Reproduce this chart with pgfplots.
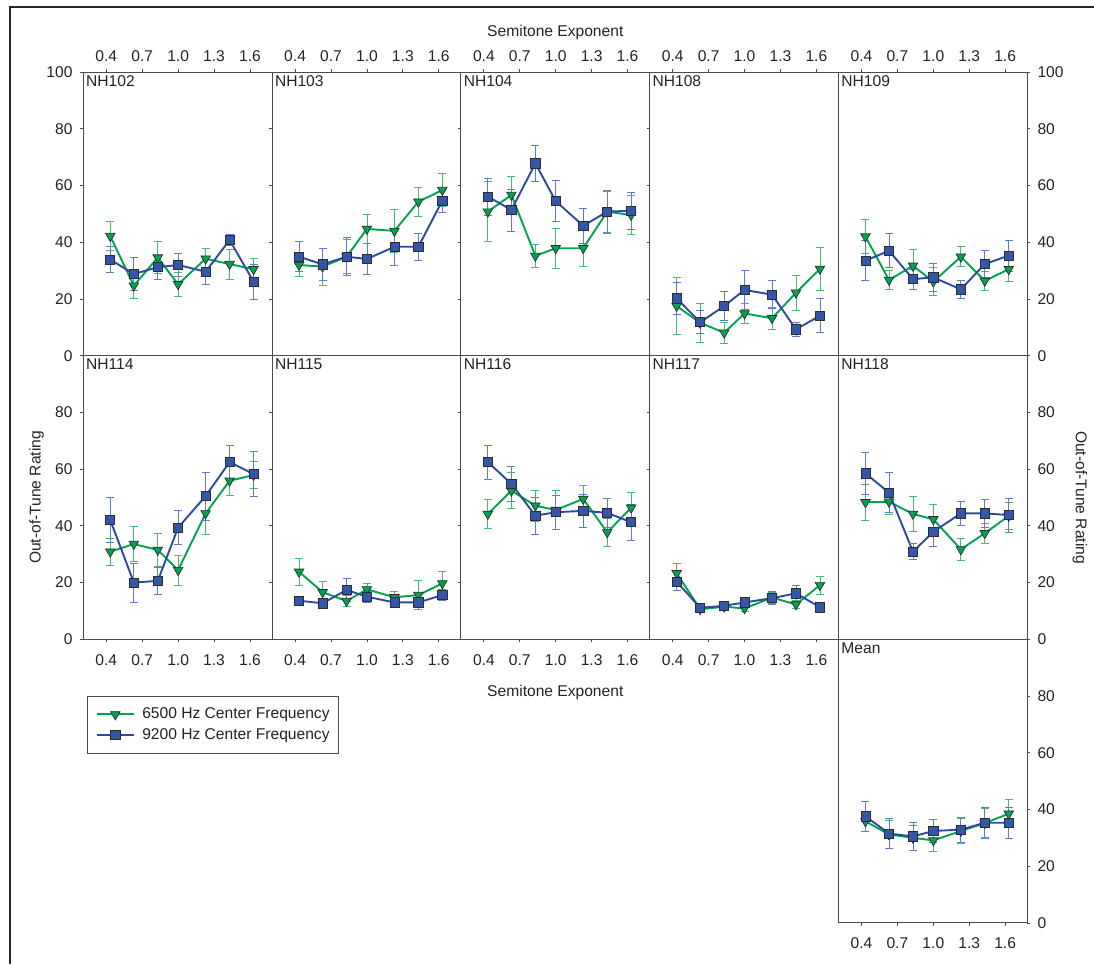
\documentclass[border=0pt]{standalone}
\usepackage{fontspec}
\setmainfont{Liberation Sans}
\usepackage{pgfplots}
\pgfplotsset{compat=1.18}
\definecolor{cgreen}{RGB}{0,163,80}
\definecolor{cgreenL}{RGB}{70,188,115}
\definecolor{cblue}{RGB}{44,74,158}
\definecolor{cblue2}{RGB}{50,86,170}
\definecolor{cblueL}{RGB}{95,125,198}
\definecolor{mkedge}{RGB}{45,45,45}
\definecolor{axgray}{RGB}{75,75,75}
\definecolor{txtgray}{RGB}{35,35,35}
\newcommand\fsz{\fontsize{15.6}{18.7}\selectfont}
\pgfplotsset{
 panel/.style={scale only axis, width=188.8pt, height=283.6pt, anchor=south west,
   xmin=0.208, xmax=1.785, ymin=0, ymax=100,
   axis line style={draw=axgray, line width=0.9pt},
   xtick={0.4,0.7,1.0,1.3,1.6}, xticklabels={0.4,0.7,1.0,1.3,1.6},
   tick align=outside, major tick length=3pt,
   tick style={draw=axgray, line width=0.8pt},
   tick label style={font=\fsz, text=txtgray, inner sep=0pt},
   label style={font=\fsz, text=txtgray, inner sep=0pt},
   /pgf/number format/assume math mode=true},
 xtop/.style={xtick pos=right, xticklabel pos=right, xticklabel shift=7.3pt},
 xbot/.style={xtick pos=left, xticklabel pos=left, xticklabel shift=11.7pt},
 ylft/.style={ytick pos=left, yticklabel pos=left, yticklabel shift=7.6pt},
 yin/.style={ytick pos=left, yticklabels={}},
 yrgt/.style={ytick pos=right, yticklabel pos=right, yticklabel shift=7pt},
 ya/.style={ytick={0,20,40,60,80,100}},
 yb/.style={ytick={0,20,40,60,80}},
 gline/.style={color=cgreen, line width=1.9pt, mark=triangle*, mark size=5.5pt,
   mark options={fill=cgreen, draw=mkedge, line width=0.7pt, rotate=180}},
 bline/.style={color=cblue, line width=1.9pt, mark=square*, mark size=4.6pt,
   mark options={fill=cblue2, draw=mkedge, line width=0.7pt}},
 gerr/.style={error bars/.cd, y dir=both, y explicit,
   error bar style={color=cgreenL, line width=0.8pt},
   error mark options={rotate=90, mark size=4pt, color=cgreenL, line width=0.8pt}},
 berr/.style={error bars/.cd, y dir=both, y explicit,
   error bar style={color=cblueL, line width=0.8pt},
   error mark options={rotate=90, mark size=4pt, color=cblueL, line width=0.8pt}},
}
\newcommand\pname[1]{\node[anchor=north west, inner sep=0pt, text=txtgray, font=\fsz, xshift=2.7pt, yshift=-3pt] at (rel axis cs:0,1) {#1};}

\begin{document}
\fsz
\begin{tikzpicture}[x=1pt,y=1pt]
\path[use as bounding box] (0pt,0pt) rectangle (1094pt,964pt);
\draw[line width=2.3pt, color=black!85] (10pt,0pt) -- (10pt,957pt) -- (1094pt,957pt);

% ---------- Row 1 ----------
\begin{axis}[panel, at={(83.3pt,608.3pt)}, xtop, ylft, ya]
\pname{NH102}
\addplot[gline, gerr] coordinates {(0.433,42.2) +- (0,5.0) (0.63,24.7) +- (0,4.6) (0.83,34.6) +- (0,5.6) (1.0,25.2) +- (0,4.2) (1.23,34.2) +- (0,3.7) (1.43,32.3) +- (0,5.3) (1.63,30.5) +- (0,3.8)};
\addplot[bline, berr] coordinates {(0.433,33.9) +- (0,4.5) (0.63,28.8) +- (0,5.9) (0.83,31.2) +- (0,4.3) (1.0,32.0) +- (0,3.9) (1.23,29.6) +- (0,4.3) (1.43,40.8) +- (0,2.0) (1.63,26.1) +- (0,6.1)};
\end{axis}

\begin{axis}[panel, at={(272.1pt,608.3pt)}, xtop, yin, ya]
\pname{NH103}
\addplot[gline, gerr] coordinates {(0.433,32.0) +- (0,3.9) (0.63,31.4) +- (0,6.5) (0.83,34.9) +- (0,6.0) (1.0,44.7) +- (0,5.2) (1.23,44.0) +- (0,7.6) (1.43,54.3) +- (0,5.1) (1.63,58.4) +- (0,5.9)};
\addplot[bline, berr] coordinates {(0.433,34.9) +- (0,5.3) (0.63,32.2) +- (0,5.8) (0.83,34.9) +- (0,6.7) (1.0,34.1) +- (0,5.4) (1.23,38.4) +- (0,6.4) (1.43,38.4) +- (0,4.8) (1.63,54.7) +- (0,4.3)};
\end{axis}

\begin{axis}[panel, at={(460.9pt,608.3pt)}, xtop, yin, ya,
  xlabel={Semitone Exponent}, xlabel style={at={(rel axis cs:0.5,1.138)}, anchor=center}]
\pname{NH104}
\addplot[gline, gerr] coordinates {(0.433,50.8) +- (0,10.6) (0.63,56.7) +- (0,6.4) (0.83,35.2) +- (0,4.2) (1.0,37.9) +- (0,7.0) (1.23,37.9) +- (0,6.3) (1.43,50.8) +- (0,7.3) (1.63,49.6) +- (0,7.0)};
\addplot[bline, berr] coordinates {(0.433,56.1) +- (0,6.5) (0.63,51.4) +- (0,7.4) (0.83,67.8) +- (0,6.2) (1.0,54.5) +- (0,7.2) (1.23,45.8) +- (0,6.3) (1.43,50.8) +- (0,7.6) (1.63,51.1) +- (0,6.4)};
\end{axis}

\begin{axis}[panel, at={(649.7pt,608.3pt)}, xtop, yin, ya]
\pname{NH108}
\addplot[gline, gerr] coordinates {(0.433,17.5) +- (0,10.0) (0.63,11.6) +- (0,7.0) (0.83,8.1) +- (0,3.7) (1.0,14.9) +- (0,3.6) (1.23,13.2) +- (0,4.0) (1.43,22.2) +- (0,6.2) (1.63,30.6) +- (0,7.6)};
\addplot[bline, berr] coordinates {(0.433,20.2) +- (0,5.5) (0.63,11.8) +- (0,4.0) (0.83,17.5) +- (0,5.2) (1.0,23.2) +- (0,7.0) (1.23,21.5) +- (0,4.9) (1.43,9.3) +- (0,2.5) (1.63,14.1) +- (0,6.0)};
\end{axis}

\begin{axis}[panel, at={(838.5pt,608.3pt)}, xtop, yrgt, ya]
\pname{NH109}
\addplot[gline, gerr] coordinates {(0.433,42.0) +- (0,6.0) (0.63,26.7) +- (0,3.3) (0.83,31.7) +- (0,5.7) (1.0,26.1) +- (0,5.0) (1.23,34.9) +- (0,3.5) (1.43,26.4) +- (0,3.3) (1.63,30.5) +- (0,4.2)};
\addplot[bline, berr] coordinates {(0.433,33.5) +- (0,7.0) (0.63,37.0) +- (0,6.0) (0.83,27.0) +- (0,3.6) (1.0,27.6) +- (0,5.0) (1.23,23.4) +- (0,3.2) (1.43,32.3) +- (0,4.7) (1.63,35.3) +- (0,5.5)};
\end{axis}

% ---------- Row 2 ----------
\begin{axis}[panel, at={(83.3pt,324.7pt)}, xbot, ylft, yb,
  ylabel={Out-of-Tune Rating}, ylabel style={at={(rel axis cs:-0.247,0.5)}, anchor=center},
  legend style={at={(0.018,-0.199)}, anchor=north west, draw=axgray, line width=0.8pt,
    fill=white, font=\fsz, text=txtgray, inner xsep=9pt, inner ysep=11pt, row sep=6pt,
    nodes={inner sep=0pt, text height=11.3pt, text depth=3.3pt, anchor=west},
    /tikz/every odd column/.append style={column sep=7.7pt}},
  legend cell align=left,
  legend image code/.code={\draw[mark repeat=2,mark phase=2,#1] plot coordinates {(0pt,0pt) (18.3pt,0pt) (36.6pt,0pt)};}]
\pname{NH114}
\addlegendimage{gline}
\addlegendentry{6500 Hz Center Frequency}
\addlegendimage{bline}
\addlegendentry{9200 Hz Center Frequency}
\addplot[gline, gerr] coordinates {(0.433,30.9) +- (0,4.8) (0.63,33.6) +- (0,6.2) (0.83,31.5) +- (0,5.8) (1.0,24.4) +- (0,5.3) (1.23,44.4) +- (0,7.3) (1.43,55.9) +- (0,5.0) (1.63,57.9) +- (0,4.8)};
\addplot[bline, berr] coordinates {(0.433,42.1) +- (0,7.8) (0.63,20.0) +- (0,6.9) (0.83,20.6) +- (0,4.6) (1.0,39.4) +- (0,5.9) (1.23,50.5) +- (0,8.5) (1.43,62.5) +- (0,6.0) (1.63,58.3) +- (0,8.0)};
\end{axis}

\begin{axis}[panel, at={(272.1pt,324.7pt)}, xbot, yin, yb]
\pname{NH115}
\addplot[gline, gerr] coordinates {(0.433,23.8) +- (0,4.9) (0.63,16.6) +- (0,3.7) (0.83,13.5) +- (0,2.0) (1.0,17.6) +- (0,2.0) (1.23,14.8) +- (0,2.0) (1.43,15.6) +- (0,5.0) (1.63,19.7) +- (0,4.4)};
\addplot[bline, berr] coordinates {(0.433,13.6) +- (0,1.0) (0.63,12.7) +- (0,1.0) (0.83,17.4) +- (0,4.2) (1.0,15.0) +- (0,2.0) (1.23,13.0) +- (0,1.5) (1.43,13.0) +- (0,1.5) (1.63,15.6) +- (0,2.0)};
\end{axis}

\begin{axis}[panel, at={(460.9pt,324.7pt)}, xbot, yin, yb,
  xlabel={Semitone Exponent}, xlabel style={at={(rel axis cs:0.5,-0.1886)}, anchor=center}]
\pname{NH116}
\addplot[gline, gerr] coordinates {(0.433,44.2) +- (0,5.1) (0.63,52.4) +- (0,6.4) (0.83,47.1) +- (0,5.5) (1.0,45.6) +- (0,7.0) (1.23,49.5) +- (0,4.7) (1.43,37.7) +- (0,4.8) (1.63,46.4) +- (0,5.3)};
\addplot[bline, berr] coordinates {(0.433,62.5) +- (0,6.0) (0.63,54.8) +- (0,6.0) (0.83,43.6) +- (0,6.6) (1.0,44.8) +- (0,6.0) (1.23,45.3) +- (0,5.7) (1.43,44.6) +- (0,5.0) (1.63,41.3) +- (0,6.3)};
\end{axis}

\begin{axis}[panel, at={(649.7pt,324.7pt)}, xbot, yin, yb]
\pname{NH117}
\addplot[gline, gerr] coordinates {(0.433,23.3) +- (0,3.3) (0.63,10.6) +- (0,1.0) (0.83,11.5) +- (0,1.0) (1.0,10.9) +- (0,1.0) (1.23,14.7) +- (0,2.0) (1.43,12.3) +- (0,1.5) (1.63,19.1) +- (0,3.1)};
\addplot[bline, berr] coordinates {(0.433,20.3) +- (0,3.2) (0.63,11.1) +- (0,1.0) (0.83,11.8) +- (0,1.0) (1.0,13.0) +- (0,1.5) (1.23,14.5) +- (0,2.3) (1.43,16.2) +- (0,2.7) (1.63,11.3) +- (0,0.5)};
\end{axis}

\begin{axis}[panel, at={(838.5pt,324.7pt)}, xtick=\empty, yrgt, yb,
  ylabel={Out-of-Tune Rating}, ylabel style={at={(rel axis cs:1.279,0.5)}, anchor=center, rotate=180}]
\pname{NH118}
\addplot[gline, gerr] coordinates {(0.433,48.3) +- (0,6.3) (0.63,48.5) +- (0,4.3) (0.83,44.2) +- (0,6.3) (1.0,42.3) +- (0,5.4) (1.23,31.7) +- (0,4.0) (1.43,37.4) +- (0,3.5) (1.63,43.5) +- (0,4.6)};
\addplot[bline, berr] coordinates {(0.433,58.5) +- (0,7.3) (0.63,51.7) +- (0,7.0) (0.83,30.9) +- (0,2.9) (1.0,37.9) +- (0,5.0) (1.23,44.4) +- (0,4.1) (1.43,44.4) +- (0,5.0) (1.63,43.8) +- (0,6.0)};
\end{axis}

% ---------- Row 3 ----------
\begin{axis}[panel, at={(838.5pt,41.1pt)}, xbot, yrgt, yb]
\pname{Mean}
\addplot[gline, gerr] coordinates {(0.433,35.8) +- (0,3.6) (0.63,31.2) +- (0,5.0) (0.83,30.0) +- (0,4.4) (1.0,29.1) +- (0,3.9) (1.23,32.4) +- (0,4.5) (1.43,35.2) +- (0,5.2) (1.63,38.5) +- (0,5.0)};
\addplot[bline, berr] coordinates {(0.433,37.6) +- (0,5.3) (0.63,31.5) +- (0,5.3) (0.83,30.5) +- (0,5.1) (1.0,32.4) +- (0,4.0) (1.23,32.9) +- (0,4.4) (1.43,35.3) +- (0,5.5) (1.63,35.3) +- (0,5.6)};
\end{axis}
\end{tikzpicture}
\end{document}
